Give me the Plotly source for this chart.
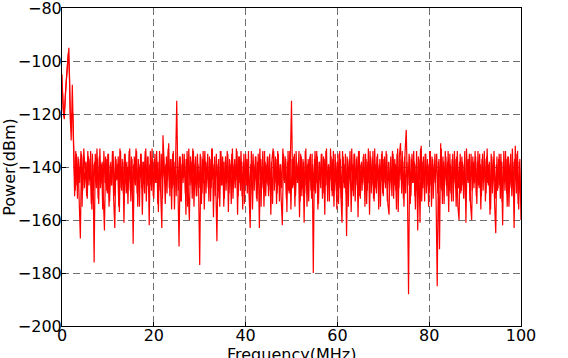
import plotly.graph_objects as go

# frequency grids (MHz): main readings every 0.25, second set shifted by half a step
freq_start = 0.0
freq_offset_start = 0.125
freq_step = 0.25

# power readings (dBm) at 0, 0.25, 0.5 ... 100 MHz
power_dbm = [
    -105, -118, -122, -112, -106, -100, -95, -118, -130, -109, -131, -151, -134, -147, -136, -153, -167, -135, -149, -133,
    -141, -138, -152, -136, -145, -134, -156, -139, -176, -135, -148, -137, -154, -133, -146, -138, -151, -164, -136, -149,
    -135, -155, -139, -147, -134, -152, -163, -137, -145, -136, -157, -134, -149, -138, -161, -135, -150, -140, -146, -133,
    -153, -137, -169, -136, -147, -134, -155, -139, -144, -135, -158, -138, -150, -133, -147, -136, -162, -134, -149, -137,
    -152, -135, -146, -138, -157, -134, -150, -163, -128, -139, -154, -136, -145, -131, -151, -137, -148, -134, -156, -138,
    -115, -147, -170, -136, -153, -135, -144, -137, -158, -134, -149, -160, -136, -146, -133, -155, -139, -151, -135, -147,
    -177, -136, -150, -134, -156, -138, -145, -135, -153, -137, -148, -133, -159, -136, -146, -168, -139, -152, -134, -147,
    -136, -155, -138, -149, -134, -157, -137, -145, -135, -152, -139, -148, -133, -158, -136, -146, -134, -151, -138, -154,
    -135, -147, -137, -150, -163, -134, -156, -139, -145, -136, -153, -135, -163, -137, -148, -134, -155, -138, -146, -136,
    -151, -135, -158, -137, -133, -149, -136, -154, -134, -147, -139, -152, -162, -135, -146, -137, -157, -134, -150, -138,
    -115, -148, -136, -155, -134, -146, -138, -159, -135, -151, -137, -161, -134, -147, -139, -153, -136, -149, -135, -180,
    -137, -150, -134, -156, -138, -145, -135, -152, -136, -158, -134, -147, -139, -153, -133, -149, -137, -155, -135, -146,
    -138, -154, -134, -150, -161, -136, -148, -135, -166, -137, -145, -134, -157, -139, -151, -135, -147, -136, -159, -134,
    -152, -138, -146, -135, -155, -137, -149, -133, -158, -136, -147, -134, -153, -139, -150, -135, -156, -137, -145, -134,
    -151, -136, -148, -135, -154, -158, -138, -146, -134, -152, -137, -149, -135, -157, -136, -131, -150, -138, -155, -134,
    -126, -147, -188, -136, -151, -135, -146, -138, -156, -134, -164, -137, -161, -132, -148, -136, -153, -135, -147, -139,
    -150, -134, -155, -137, -146, -135, -152, -185, -138, -171, -131, -149, -136, -154, -134, -147, -138, -157, -135, -150,
    -137, -153, -134, -148, -136, -155, -160, -135, -149, -138, -152, -134, -161, -137, -146, -135, -154, -160, -136, -148,
    -134, -151, -138, -147, -135, -156, -137, -149, -134, -153, -136, -146, -139, -158, -135, -150, -137, -154, -165, -136,
    -148, -135, -152, -138, -162, -134, -149, -137, -155, -136, -147, -135, -151, -138, -163, -132, -150, -134, -156, -137,
    -160,
]

# power readings (dBm) at 0.125, 0.375 ... 99.875 MHz
power_offset_dbm = [
    -112, -121, -117, -109, -103, -97, -105, -125, -120, -120, -138, -149, -135, -152, -137, -146, -134, -155, -136, -148,
    -139, -151, -134, -147, -137, -154, -135, -149, -138, -145, -133, -152, -136, -148, -139, -156, -134, -146, -137, -150,
    -135, -153, -138, -147, -134, -151, -136, -145, -139, -155, -133, -148, -137, -150, -135, -146, -138, -154, -134, -149,
    -136, -152, -139, -146, -133, -150, -137, -155, -135, -148, -138, -145, -134, -153, -136, -149, -139, -147, -133, -151,
    -137, -146, -134, -154, -138, -149, -135, -152, -136, -145, -139, -150, -133, -148, -137, -156, -135, -147, -138, -151,
    -134, -149, -136, -153, -139, -146, -135, -150, -137, -155, -133, -147, -138, -152, -134, -145, -136, -151, -139, -148,
    -135, -154, -137, -146, -134, -150, -138, -148, -136, -153, -133, -145, -139, -151, -135, -149, -137, -155, -134, -147,
    -138, -152, -136, -146, -135, -150, -139, -154, -133, -148, -137, -145, -134, -151, -136, -149, -138, -156, -135, -147,
    -137, -150, -134, -153, -139, -146, -135, -149, -136, -152, -138, -145, -133, -155, -137, -148, -134, -151, -139, -147,
    -136, -149, -138, -154, -134, -146, -137, -150, -135, -153, -139, -148, -133, -145, -136, -152, -138, -149, -134, -156,
    -137, -147, -135, -151, -139, -146, -134, -153, -136, -148, -138, -150, -133, -155, -137, -145, -135, -152, -139, -149,
    -134, -146, -136, -154, -138, -148, -135, -150, -137, -147, -133, -153, -139, -145, -136, -151, -134, -149, -138, -156,
    -135, -148, -137, -152, -134, -146, -139, -150, -136, -155, -138, -147, -133, -149, -135, -153, -137, -145, -134, -151,
    -139, -149, -136, -147, -135, -154, -138, -146, -134, -150, -137, -152, -133, -148, -136, -145, -139, -155, -135, -150,
    -137, -146, -134, -153, -138, -149, -136, -151, -135, -147, -139, -156, -133, -148, -137, -145, -134, -152, -136, -150,
    -138, -147, -135, -154, -137, -146, -134, -151, -139, -149, -136, -145, -133, -153, -138, -148, -135, -150, -137, -155,
    -134, -147, -136, -152, -139, -146, -135, -150, -137, -148, -133, -154, -138, -145, -136, -151, -134, -149, -139, -153,
    -135, -146, -137, -155, -134, -148, -138, -150, -136, -147, -139, -152, -133, -145, -137, -153, -135, -149, -138, -146,
    -136, -154, -134, -148, -139, -151, -135, -146, -137, -150, -133, -147, -138, -156, -136, -145, -134, -152, -139, -149,
    -137, -147, -135, -153, -138, -146, -134, -150, -136, -155, -139, -148, -133, -151, -137, -145, -135, -154, -138, -150,
]

fig = go.Figure()
for y0, ys in [(freq_start, power_dbm), (freq_offset_start, power_offset_dbm)]:
    fig.add_trace(go.Scatter(y=ys, x0=y0, dx=freq_step, mode='lines',
                             line=dict(color='red', width=1.2, simplify=False), showlegend=False))

axis_style = dict(showgrid=True, gridcolor='#707070', griddash='7px,4px', gridwidth=1,
                  showline=True, linecolor='black', linewidth=1, mirror=True,
                  ticks='inside', ticklen=4, tickcolor='black', zeroline=False,
                  automargin=False, ticklabeloverflow='allow',
                  tickfont=dict(size=16, color='black'))

fig.update_xaxes(range=[0, 100], dtick=20, tick0=0, ticklabelstandoff=-5, **axis_style)
fig.update_yaxes(range=[-200, -80], dtick=20, tick0=-200, ticklabelstandoff=-4,
                 title=dict(text='Power(dBm)', font=dict(size=16, color='black'), standoff=8), **axis_style)

# x title sits low, partly below the window edge as in the original
fig.add_annotation(text='Frequency(MHz)', xref='paper', yref='paper', x=0.5, y=-0.055,
                   xanchor='center', yanchor='top', showarrow=False,
                   font=dict(size=16, color='black'))

fig.update_layout(width=568, height=358, margin=dict(l=62, r=47, t=8, b=32),
                  plot_bgcolor='white', paper_bgcolor='white',
                  font=dict(family='DejaVu Sans', color='black'))

# drop the page's default body margin so the figure sits at the window's corner
fig.write_html("out.html", config={'displayModeBar': False},
               post_script="document.body.style.margin='0';")
